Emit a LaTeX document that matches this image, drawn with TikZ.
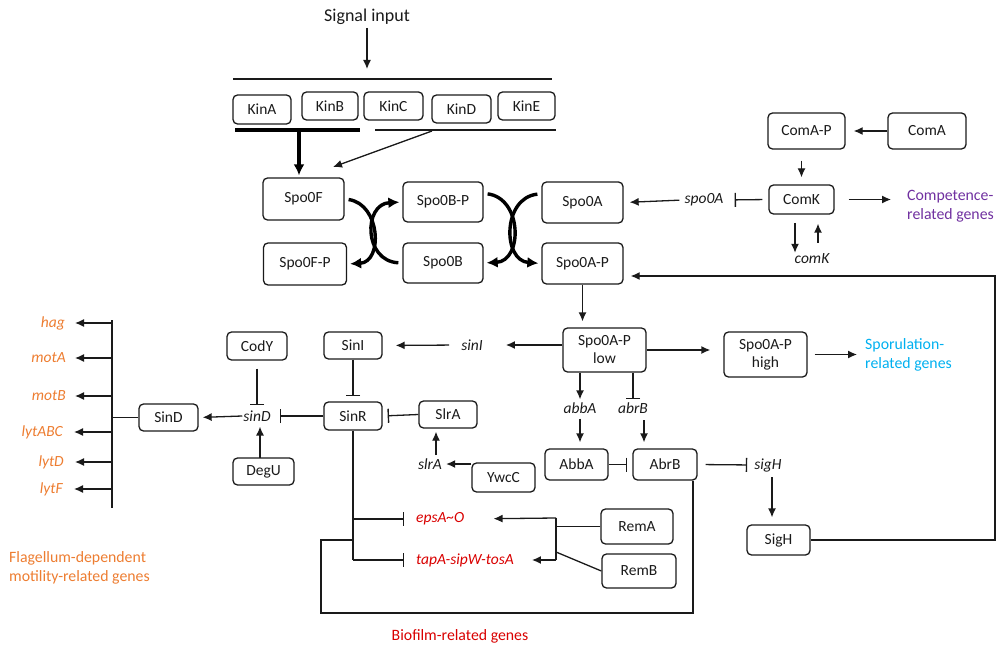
\documentclass[tikz,border=0pt]{standalone}
\usepackage{fontspec}
\setmainfont{Carlito}
\usetikzlibrary{arrows.meta}
\definecolor{compcol}{HTML}{7030A0}
\definecolor{sporcol}{HTML}{00B0F0}
\definecolor{flagcol}{HTML}{ED7D31}
\definecolor{biocol}{HTML}{D90000}
\definecolor{inkcol}{HTML}{1A1A1A}
\tikzset{
  box/.style={draw=inkcol, rounded corners=4.5pt, line width=1.3pt, inner sep=1pt, align=center, text=inkcol, font=\fontsize{15.5}{18}\selectfont},
  gene/.style={inner sep=1pt, font=\itshape\fontsize{15.5}{18}\selectfont, text=inkcol},
  lab/.style={inner sep=0pt, align=left, font=\fontsize{15.8}{19.5}\selectfont},
  ln/.style={line width=1.3pt, draw=inkcol},
  arr/.style={ln, -{Latex[length=9pt,width=8pt]}},
  inh/.style={ln, -{Bar[width=14pt,line width=1.4pt]}},
  fat/.style={line width=3.4pt, draw=black, -{Latex[length=11pt,width=11pt]}},
}
\begin{document}
\begin{tikzpicture}[x=1pt,y=-1pt]
\useasboundingbox (0,0) rectangle (999,647);

% ---------- boxes ----------
\node[box,minimum width=58pt,minimum height=29pt] (KinA) at (262,109.5) {KinA};
\node[box,minimum width=56pt,minimum height=28pt] (KinB) at (330,106) {KinB};
\node[box,minimum width=59pt,minimum height=28pt] (KinC) at (393.5,106) {KinC};
\node[box,minimum width=59pt,minimum height=28pt] (KinD) at (461.5,109) {KinD};
\node[box,minimum width=57pt,minimum height=28pt] (KinE) at (526.5,106) {KinE};

\node[box,minimum width=81pt,minimum height=42pt] (Spo0F) at (303.5,199) {Spo0F};
\node[box,minimum width=83pt,minimum height=42pt] (Spo0F-P) at (305,264) {Spo0F-P};
\node[box,minimum width=80pt,minimum height=40pt] (Spo0B-P) at (443,202) {Spo0B-P};
\node[box,minimum width=80pt,minimum height=40pt] (Spo0B) at (443,263) {Spo0B};
\node[box,minimum width=81pt,minimum height=41pt] (Spo0A) at (582.5,202.5) {Spo0A};
\node[box,minimum width=81pt,minimum height=41pt] (Spo0A-P) at (582.5,263.5) {Spo0A-P};

\node[box,minimum width=77pt,minimum height=36pt] (ComA-P) at (806.5,131) {ComA-P};
\node[box,minimum width=78pt,minimum height=36pt] (ComA) at (927,131) {ComA};
\node[box,minimum width=65pt,minimum height=29pt] (ComK) at (801.5,199.5) {ComK};

\node[box,minimum width=83pt,minimum height=44pt] (low) at (604.5,350) {Spo0A-P\\low};
\node[box,minimum width=83pt,minimum height=45pt] (high) at (765.5,354.5) {Spo0A-P\\high};
\node[box,minimum width=63pt,minimum height=31pt] (AbbA) at (576.5,464.5) {AbbA};
\node[box,minimum width=64pt,minimum height=31pt] (AbrB) at (665,464.5) {AbrB};
\node[box,minimum width=63pt,minimum height=30pt] (SigH) at (778.5,540) {SigH};
\node[box,minimum width=72pt,minimum height=35pt] (RemA) at (637,526.5) {RemA};
\node[box,minimum width=74pt,minimum height=34pt] (RemB) at (639,571) {RemB};
\node[box,minimum width=63pt,minimum height=29pt] (YwcC) at (503.5,477.5) {YwcC};
\node[box,minimum width=58pt,minimum height=27pt] (SlrA) at (448,414.5) {SlrA};
\node[box,minimum width=58pt,minimum height=28pt] (SinR) at (353,416) {SinR};
\node[box,minimum width=58pt,minimum height=27pt] (SinI) at (353,345.5) {SinI};
\node[box,minimum width=60pt,minimum height=28pt] (CodY) at (257,346) {CodY};
\node[box,minimum width=61pt,minimum height=27pt] (DegU) at (263.5,471.5) {DegU};
\node[box,minimum width=59pt,minimum height=27pt] (SinD) at (168.5,417.5) {SinD};

% ---------- gene texts ----------
\node[gene] (spo0A) at (704,200) {spo0A};
\node[gene] (comK) at (812,259) {comK};
\node[gene] (sinI) at (472,345) {sinI};
\node[gene] (abbA) at (580,408) {abbA};
\node[gene] (abrB) at (633,408) {abrB};
\node[gene] (sigH) at (768,465) {sigH};
\node[gene] (slrA) at (430,464) {slrA};
\node[gene] (sinD) at (257,416) {sinD};
\node[gene,text=biocol,anchor=west] (eps) at (415,519) {epsA\textasciitilde O};
\node[gene,text=biocol,anchor=west] (tapA) at (415,560) {tapA-sipW-tosA};
\node[gene,text=flagcol,anchor=east] (hag) at (66,323) {hag};
\node[gene,text=flagcol,anchor=east] (motA) at (67,358) {motA};
\node[gene,text=flagcol,anchor=east] (motB) at (67,396) {motB};
\node[gene,text=flagcol,anchor=east] (lytABC) at (64,432) {lytABC};
\node[gene,text=flagcol,anchor=east] (lytD) at (65,462) {lytD};
\node[gene,text=flagcol,anchor=east] (lytF) at (64,489) {lytF};

% ---------- labels ----------
\node[lab,text=inkcol,font=\fontsize{18}{21}\selectfont] (sig) at (367,17) {Signal input};
\node[lab,text=compcol,anchor=west] (comp) at (907,206) {Competence-\\related genes};
\node[lab,text=sporcol,anchor=west] (spor) at (865,355) {Sporulation-\\related genes};
\node[lab,text=flagcol,anchor=west] (flag) at (9,568) {Flagellum-dependent\\motility-related genes};
\node[lab,text=biocol] (bio) at (460,636) {Biofilm-related genes};

% ---------- coordinates ----------
\coordinate (tl1) at (233,79);
\coordinate (tl2) at (552,79);
\coordinate (ka1) at (235,130);
\coordinate (ka2) at (360,130);
\coordinate (kam) at (299,130);
\coordinate (kc1) at (375,130);
\coordinate (kc2) at (556,130);
\coordinate (kdm) at (432,131);
\coordinate (kdend) at (333,167);
\coordinate (comkdn) at (795,223);
\coordinate (comkup) at (818,243);
\coordinate (vt) at (112,320);
\coordinate (vb) at (112,508);
\coordinate (slrAup) at (436,455);
\coordinate (abrBdn) at (644,420);
\coordinate (sigHdn) at (772,477);
\coordinate (l1) at (693,613);
\coordinate (l2) at (321,613);
\coordinate (l3) at (321,540);
\coordinate (rj1) at (556,518);
\coordinate (rj2) at (556,560);
\coordinate (rj3) at (556,552);
\coordinate (fb1) at (995,540);
\coordinate (fb2) at (995,276);
\coordinate (degup) at (260,458);

% ---------- top ----------
\draw[arr,shorten <=3pt,shorten >=10pt] (sig.south) -- (sig.south |- tl1);
\draw[ln] (tl1) -- (tl2);
\draw[line width=4pt] (ka1) -- (ka2);
\draw[fat,shorten >=2pt] (kam) -- (kam |- Spo0F.north);
\draw[ln] (kc1) -- (kc2);
\draw[arr] (kdm) -- (kdend);

% ---------- phosphorelay ----------
\draw[fat,shorten <=4pt,shorten >=3pt] (Spo0F.east) .. controls +(36,5) and +(36,-2) .. (Spo0F-P.east);
\draw[fat,shorten <=4pt,shorten >=3pt] (Spo0B.west) .. controls +(-39,-2) and +(-39,2) .. (Spo0B-P.west);
\draw[fat,shorten <=4pt,shorten >=3pt] (Spo0B-P.12) .. controls +(39,5) and +(39,-2) .. (Spo0B.east);
\draw[fat,shorten <=4pt,shorten >=3pt] (Spo0A.168) .. controls +(-39,4) and +(-39,-3) .. (Spo0A-P.west);

% ---------- competence ----------
\draw[arr,shorten >=8pt] (ComA.west) -- (ComA-P.east);
\draw[arr,shorten <=11pt,shorten >=7pt] (ComK.north |- ComA-P.south) -- (ComK.north);
\draw[inh,shorten <=6pt,shorten >=10pt] (ComK.west) -- (spo0A.east);
\draw[arr,shorten <=4pt,shorten >=6pt] (spo0A.west) -- (Spo0A.east);
\draw[arr,shorten <=14pt,shorten >=16pt] (ComK.east) -- (ComK.east -| comp.west);
\draw[arr] (comkdn) -- (comkdn |- comK.north);
\draw[arr,shorten >=9pt] (comkup) -- (comkup |- ComK.south);

% ---------- Spo0A-P ----------
\draw[arr,shorten >=6pt] (Spo0A-P.south) -- (Spo0A-P.south |- low.north);
\draw[arr,shorten >=13pt] (low.east) -- (low.east -| high.west);
\draw[arr,shorten <=7pt,shorten >=8pt] (high.east) -- (high.east -| spor.west);
\draw[arr,shorten >=22pt] (sinI -| low.west) -- (sinI.east);
\draw[arr,shorten <=11pt,shorten >=13pt] (sinI.west) -- (SinI.east);
\draw[arr,shorten >=2pt] (abbA.north |- low.south) -- (abbA.north);
\draw[inh,shorten >=2pt] (abrB.north |- low.south) -- (abrB.north);
\draw[arr,shorten <=4pt,shorten >=6pt] (abbA.south) -- (abbA.south |- AbbA.north);
\draw[arr,shorten >=6pt] (abrBdn) -- (abrBdn |- AbrB.north);
\draw[inh,shorten >=5pt] (AbbA.east) -- (AbrB.west);
\draw[inh,shorten <=8pt,shorten >=6pt] (AbrB.east) -- (sigH.west);
\draw[arr,shorten >=7pt] (sigHdn) -- (sigHdn |- SigH.north);
\draw[arr,shorten >=7pt] (SigH.east) -- (fb1) -- (fb2) -- (fb2 -| Spo0A-P.east);

% ---------- Sin system ----------
\draw[inh,shorten >=5pt] (SinI.south) -- (SinR.north);
\draw[inh,shorten >=5pt] (SlrA.west) -- (SinR.east);
\draw[arr,shorten >=3pt] (slrAup) -- (slrAup |- SlrA.south);
\draw[arr,shorten >=3pt] (slrA -| YwcC.west) -- (slrA.east);
\draw[inh,shorten >=8pt] (SinR.west) -- (sinD.east);
\draw[inh,shorten <=8pt,shorten >=4pt] (CodY.south) -- (sinD.north);
\draw[arr,shorten >=4pt] (degup) -- (degup |- sinD.south);
\draw[arr,shorten >=4pt] (sinD.west) -- (SinD.east);
\draw[ln] (SinD.west) -- (SinD.west -| vt);
\draw[ln] (vt) -- (vb);
\draw[arr,shorten >=9pt] (hag.east -| vt) -- (hag.east);
\draw[arr,shorten >=8pt] (motA.east -| vt) -- (motA.east);
\draw[arr,shorten >=8pt] (motB.east -| vt) -- (motB.east);
\draw[arr,shorten >=10pt] (lytABC.east -| vt) -- (lytABC.east);
\draw[arr,shorten >=10pt] (lytD.east -| vt) -- (lytD.east);
\draw[arr,shorten >=10pt] (lytF.east -| vt) -- (lytF.east);

% ---------- biofilm ----------
\draw[ln] (SinR.south) -- (SinR.south |- tapA);
\draw[inh,shorten >=11pt] (SinR.south |- eps) -- (eps.west);
\draw[inh,shorten >=11pt] (SinR.south |- tapA) -- (tapA.west);
\draw[ln] (AbrB.south -| l1) -- (l1) -- (l2) -- (l3) -- (l3 -| SinR.south);
\draw[ln] (rj1) -- (rj2);
\draw[ln] (RemA.west) -- (RemA.west -| rj1);
\draw[ln] (RemB.west) -- (rj3);
\draw[arr,shorten >=28pt] (rj1) -- (eps.east);
\draw[arr,shorten >=17pt] (rj2) -- (tapA.east);
\end{tikzpicture}
\end{document}
